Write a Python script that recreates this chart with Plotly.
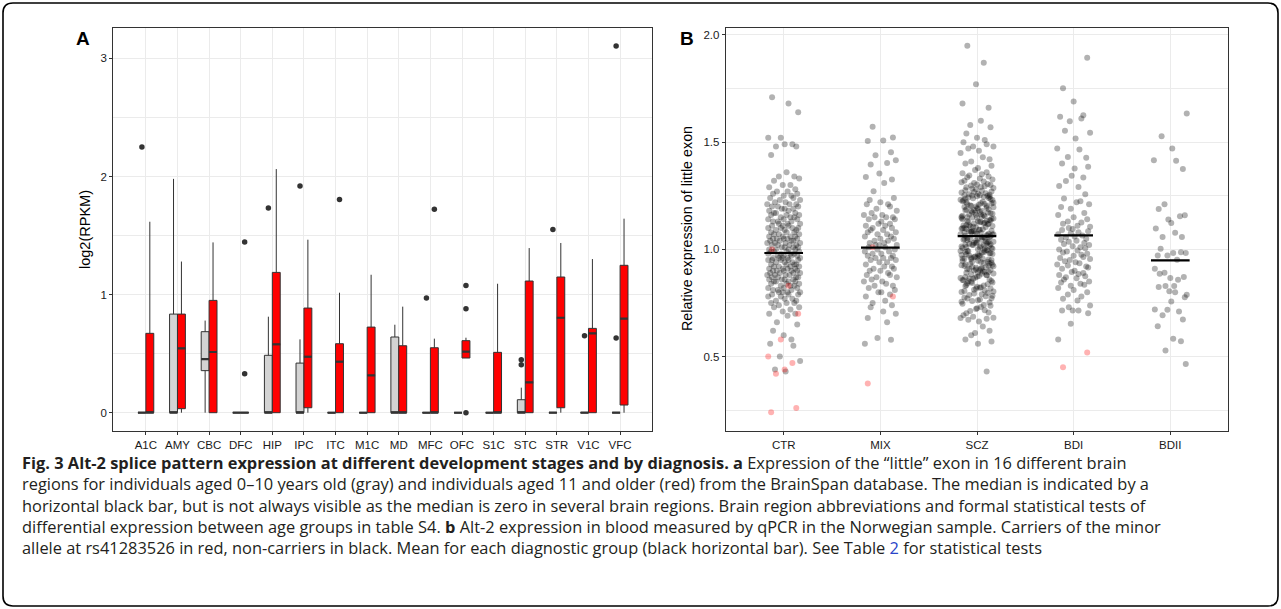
import plotly.graph_objects as go

W, H = 1281, 609

# ---------------- Panel A data (box statistics) ----------------
regions = ["A1C", "AMY", "CBC", "DFC", "HIP", "IPC", "ITC", "M1C",
           "MD", "MFC", "OFC", "S1C", "STC", "STR", "V1C", "VFC"]

young_q1 = [0, 0, 0.356, 0, 0, 0, 0, 0, 0, 0, 0, 0, 0, 0, 0, 0]
young_med = [0, 0, 0.454, 0, 0, 0, 0, 0, 0, 0, 0, 0, 0, 0, 0, 0]
young_q3 = [0, 0.835, 0.686, 0, 0.486, 0.42, 0, 0, 0.641, 0, 0, 0, 0.11, 0, 0, 0]
young_lo = [0, 0, 0, 0, 0, 0, 0, 0, 0, 0, 0, 0, 0, 0, 0, 0]
young_hi = [0, 1.98, 0.78, 0, 0.813, 0.621, 0, 0, 0.745, 0, 0, 0, 0.212, 0, 0, 0]
young_out_region = ["A1C", "HIP", "IPC", "MFC", "STC", "STC", "STR", "V1C", "VFC", "VFC"]
young_out_val = [2.25, 1.733, 1.919, 0.971, 0.449, 0.406, 1.552, 0.652, 3.105, 0.632]

old_q1 = [0, 0.034, 0, 0, 0, 0.042, 0, 0, 0, 0, 0.463, 0, 0, 0.042, 0, 0.065]
old_med = [0, 0.545, 0.514, 0, 0.579, 0.474, 0.432, 0.316, 0, 0, 0.517, 0, 0.257, 0.804, 0.672, 0.796]
old_q3 = [0.672, 0.835, 0.951, 0, 1.188, 0.886, 0.584, 0.725, 0.567, 0.55, 0.61, 0.511, 1.115, 1.149, 0.714, 1.248]
old_lo = [0, 0, 0, 0, 0, 0, 0, 0, 0, 0, 0.463, 0, 0, 0, 0, 0]
old_hi = [1.617, 1.28, 1.442, 0, 2.063, 1.465, 1.016, 1.168, 0.898, 0.627, 0.635, 1.092, 1.394, 1.437, 1.301, 1.643]
old_out_region = ["DFC", "DFC", "ITC", "MFC", "OFC", "OFC", "OFC"]
old_out_val = [0.33, 1.445, 1.806, 1.722, 1.078, 0.881, 0.0]

# ---------------- Panel B data ----------------
groups = ["CTR", "MIX", "SCZ", "BDI", "BDII"]
group_means = [0.983, 1.008, 1.062, 1.065, 0.949]

ctr_gray = [1.71, 1.68, 1.64, 1.52, 1.52, 1.49, 1.49, 1.48, 1.48, 1.44, 1.36, 1.34, 1.34, 1.33, 1.32,
            1.30, 1.30, 1.29, 1.28, 1.27, 1.27, 1.26, 1.26, 1.25, 1.25,
            1.24, 1.24, 1.23, 1.23, 1.22, 1.22, 1.21, 1.21, 1.21, 1.20, 1.20, 1.20,
            1.19, 1.19, 1.19, 1.18, 1.18, 1.17, 1.17, 1.17, 1.16, 1.16, 1.16, 1.15, 1.15, 1.15,
            1.14, 1.14, 1.14, 1.13, 1.13, 1.13, 1.12, 1.12, 1.12, 1.11, 1.11, 1.11, 1.10, 1.10, 1.10, 1.10,
            1.09, 1.09, 1.09, 1.08, 1.08, 1.08, 1.07, 1.07, 1.07, 1.06, 1.06, 1.06, 1.06, 1.05, 1.05, 1.05, 1.05, 1.05,
            1.04, 1.04, 1.04, 1.04, 1.03, 1.03, 1.03, 1.03, 1.02, 1.02, 1.02, 1.02, 1.01, 1.01, 1.01, 1.01, 1.00, 1.00, 1.00, 1.00,
            0.99, 0.99, 0.99, 0.99, 0.98, 0.98, 0.98, 0.98, 0.97, 0.97, 0.97, 0.97, 0.96, 0.96, 0.96, 0.96, 0.96, 0.95, 0.95, 0.95, 0.95, 0.95,
            0.94, 0.94, 0.94, 0.93, 0.93, 0.93, 0.93, 0.92, 0.92, 0.92, 0.92, 0.91, 0.91, 0.91, 0.91, 0.90, 0.90, 0.90, 0.90, 0.90,
            0.89, 0.89, 0.89, 0.89, 0.88, 0.88, 0.88, 0.88, 0.87, 0.87, 0.87, 0.87, 0.86, 0.86, 0.86, 0.86, 0.85, 0.85, 0.85, 0.85,
            0.84, 0.84, 0.84, 0.83, 0.83, 0.83, 0.82, 0.82, 0.82, 0.81, 0.81, 0.81, 0.80, 0.80, 0.80, 0.80,
            0.79, 0.79, 0.79, 0.78, 0.78, 0.77, 0.77, 0.76, 0.76, 0.75, 0.75, 0.75,
            0.74, 0.73, 0.73, 0.72, 0.71, 0.70, 0.70, 0.69,
            0.66, 0.65, 0.62, 0.60, 0.58, 0.56, 0.55, 0.50, 0.48, 0.44, 0.43]
ctr_red = [1.00, 0.83, 0.70, 0.58, 0.50, 0.47, 0.44, 0.42, 0.26, 0.24]

mix_gray = [1.572, 1.522, 1.506, 1.508, 1.453, 1.439, 1.416, 1.396, 1.403, 1.354, 1.338, 1.326, 1.31, 1.271,
            1.24, 1.23, 1.22, 1.21, 1.21, 1.20,
            1.19, 1.18, 1.17, 1.16, 1.16, 1.15, 1.15, 1.15,
            1.14, 1.14, 1.13, 1.12, 1.12, 1.11, 1.11, 1.10, 1.10,
            1.09, 1.09, 1.08, 1.08, 1.07, 1.07, 1.06, 1.06, 1.05, 1.05,
            1.04, 1.04, 1.03, 1.03, 1.02, 1.02, 1.02, 1.01, 1.01, 1.00, 1.00,
            0.99, 0.99, 0.98, 0.98, 0.97, 0.97, 0.96, 0.96, 0.96, 0.95, 0.95,
            0.94, 0.94, 0.93, 0.92, 0.92, 0.91, 0.91, 0.90, 0.90,
            0.89, 0.88, 0.88, 0.87, 0.87, 0.86, 0.85, 0.85,
            0.84, 0.83, 0.83, 0.82, 0.81, 0.80, 0.80,
            0.79, 0.78, 0.76, 0.75, 0.74, 0.73,
            0.71, 0.70, 0.68, 0.66, 0.587, 0.578, 0.56]
mix_red = [1.01, 0.78, 0.375]

scz_gray = [1.95, 1.87, 1.77, 1.68, 1.66, 1.60, 1.58, 1.57, 1.54, 1.52, 1.51, 1.50, 1.49, 1.48, 1.48, 1.47,
            1.46, 1.45, 1.43, 1.42, 1.41, 1.40, 1.39, 1.38,
            1.37, 1.36, 1.355, 1.35, 1.344, 1.34, 1.336, 1.33, 1.326, 1.32, 1.317, 1.31, 1.305, 1.313, 1.302, 1.30,
            1.298, 1.294, 1.29, 1.291, 1.286, 1.283, 1.28, 1.276, 1.273, 1.27, 1.267, 1.265, 1.262, 1.26, 1.257,
            1.255, 1.253, 1.252, 1.25, 1.251,
            1.23, 1.21, 1.245, 1.20, 1.225, 1.24, 1.215, 1.205, 1.235, 1.22, 1.248, 1.212, 1.228, 1.202, 1.238,
            1.218, 1.242, 1.208, 1.232, 1.222, 1.246, 1.204, 1.236, 1.214,
            1.19, 1.171, 1.195, 1.157, 1.18, 1.163, 1.187, 1.15, 1.176, 1.166, 1.198, 1.159, 1.184, 1.172, 1.152,
            1.193, 1.168, 1.179, 1.155, 1.186, 1.164, 1.197, 1.173, 1.161, 1.182, 1.153,
            1.143, 1.121, 1.146, 1.104, 1.131, 1.113, 1.137, 1.101, 1.126, 1.117, 1.149, 1.109, 1.133, 1.122,
            1.103, 1.141, 1.119, 1.129, 1.107, 1.135, 1.114, 1.147, 1.124, 1.111, 1.132, 1.105, 1.144, 1.127,
            1.092, 1.071, 1.094, 1.056, 1.081, 1.063, 1.087, 1.051, 1.076, 1.067, 1.099, 1.058, 1.083, 1.073,
            1.053, 1.091, 1.069, 1.079, 1.057, 1.086, 1.065, 1.096, 1.074, 1.061, 1.082, 1.054, 1.095, 1.077, 1.07, 1.085,
            1.041, 1.022, 1.044, 1.006, 1.031, 1.013, 1.037, 1.001, 1.026, 1.017, 1.048, 1.009, 1.033, 1.021,
            1.003, 1.043, 1.019, 1.029, 1.007, 1.036, 1.015, 1.047, 1.024, 1.011, 1.032, 1.004, 1.045, 1.027, 1.02, 1.035,
            0.991, 0.972, 0.993, 0.956, 0.981, 0.961, 0.988, 0.951, 0.976, 0.967, 0.997, 0.958, 0.983, 0.971,
            0.953, 0.992, 0.969, 0.979, 0.957, 0.987, 0.964, 0.995, 0.974, 0.962, 0.982, 0.955, 0.994, 0.977,
            0.941, 0.921, 0.944, 0.906, 0.931, 0.913, 0.938, 0.901, 0.926, 0.917, 0.947, 0.909, 0.934, 0.922,
            0.903, 0.942, 0.919, 0.928, 0.907, 0.936, 0.914, 0.946, 0.924, 0.911, 0.932, 0.904,
            0.891, 0.872, 0.894, 0.856, 0.881, 0.863, 0.887, 0.851, 0.876, 0.866, 0.897, 0.859, 0.884, 0.871,
            0.853, 0.892, 0.868, 0.879, 0.857, 0.886, 0.864, 0.895,
            0.842, 0.821, 0.846, 0.806, 0.831, 0.812, 0.837, 0.801, 0.826, 0.817, 0.849, 0.808, 0.834, 0.823,
            0.803, 0.843, 0.818, 0.829,
            0.791, 0.772, 0.794, 0.756, 0.781, 0.763, 0.787, 0.752, 0.776, 0.766, 0.797, 0.759, 0.784, 0.771,
            0.741, 0.722, 0.746, 0.706, 0.731, 0.713, 0.737, 0.702, 0.726, 0.716,
            0.693, 0.676, 0.686, 0.681, 0.672,
            0.664, 0.68, 0.64, 0.62, 0.60, 0.58, 0.57, 0.56, 0.61, 0.43]
scz_red = []

bdi_gray = [1.894, 1.752, 1.69, 1.61, 1.618, 1.625, 1.597, 1.544, 1.553, 1.517, 1.47, 1.466, 1.427, 1.431,
            1.40, 1.385, 1.377, 1.343, 1.335, 1.296, 1.291, 1.319, 1.257, 1.237, 1.22, 1.21, 1.198, 1.224,
            1.19, 1.17, 1.16, 1.15, 1.14, 1.13, 1.125, 1.12, 1.11, 1.105,
            1.10, 1.095, 1.09, 1.08, 1.085, 1.075, 1.07, 1.065, 1.06, 1.055, 1.05,
            1.045, 1.04, 1.03, 1.035, 1.02, 1.025, 1.01, 1.015, 1.00, 1.005,
            0.995, 0.99, 0.98, 0.985, 0.97, 0.975, 0.96, 0.965, 0.95, 0.955,
            0.945, 0.94, 0.93, 0.935, 0.92, 0.925, 0.91, 0.915, 0.90,
            0.895, 0.89, 0.88, 0.885, 0.87, 0.875, 0.86, 0.865, 0.85,
            0.845, 0.84, 0.83, 0.835, 0.82, 0.81, 0.80, 0.79, 0.78, 0.77,
            0.762, 0.738, 0.73, 0.715, 0.715, 0.715, 0.702, 0.653, 0.58]
bdi_red = [0.519, 0.45]

bdii_gray = [1.634, 1.528, 1.47, 1.416, 1.413, 1.375, 1.21, 1.188, 1.159, 1.123, 1.139, 1.154, 1.097,
             1.078, 1.058, 1.058, 1.003, 0.983, 0.983, 0.972, 0.952, 0.972, 0.987,
             0.91, 0.866, 0.871, 0.891, 0.858, 0.886, 0.829, 0.788, 0.829,
             0.805, 0.824, 0.80, 0.777, 0.718, 0.72, 0.71, 0.757, 0.693, 0.673,
             0.642, 0.583, 0.572, 0.528, 0.466]
bdii_red = []

# jitter pattern (horizontal spread of the dots, in category units)
jitter = [-0.12, 0.05, 0.15, -0.03, -0.16, 0.09, 0.01, -0.08, 0.13, -0.13, 0.03, 0.11, -0.05, 0.16,
          -0.10, 0.07, -0.01, -0.15, 0.12, 0.04, -0.07, 0.14, -0.11, 0.00, 0.08, -0.14, 0.10, -0.04,
          0.17, -0.09, 0.02, -0.17, 0.06, 0.13, -0.06, -0.12, 0.15, 0.01, -0.02, 0.10, -0.15, 0.05,
          -0.08, 0.12, -0.10, 0.03, 0.16, -0.13, 0.07, -0.03, 0.11, -0.16, 0.00, 0.14, -0.06, 0.08,
          -0.11, 0.04, 0.17, -0.05, -0.01]

gray_sets = [ctr_gray, mix_gray, scz_gray, bdi_gray, bdii_gray]
red_sets = [ctr_red, mix_red, scz_red, bdi_red, bdii_red]

# ---------------- figure ----------------
DARK = "#333333"
GRID = "#EBEBEB"
FONT = "Liberation Sans, Arial, sans-serif"

fig = go.Figure()

ridx = {r: i for i, r in enumerate(regions)}
dodge = 0.125
bw = 0.25

for q1, med, q3, lo, hi, off, fill in [
    (young_q1, young_med, young_q3, young_lo, young_hi, -dodge, "#D3D3D3"),
    (old_q1, old_med, old_q3, old_lo, old_hi, dodge, "#FF0000"),
]:
    xs = [i + off for i in range(len(regions))]
    fig.add_trace(go.Box(
        x=xs, q1=q1, median=med, q3=q3, lowerfence=lo, upperfence=hi,
        width=bw, fillcolor=fill, line=dict(color=DARK, width=1),
        whiskerwidth=0, boxpoints=False, xaxis="x", yaxis="y", showlegend=False,
        hoverinfo="skip",
    ))
    # thicker median bars
    mx, my = [], []
    for i, m in enumerate(med):
        mx += [i + off - bw / 2, i + off + bw / 2, None]
        my += [m, m, None]
    fig.add_trace(go.Scatter(x=mx, y=my, mode="lines", line=dict(color=DARK, width=2.2),
                             xaxis="x", yaxis="y", showlegend=False, hoverinfo="skip"))

fig.add_trace(go.Scatter(
    x=[ridx[r] - dodge for r in young_out_region], y=young_out_val, mode="markers",
    marker=dict(color=DARK, size=5.5), xaxis="x", yaxis="y", showlegend=False, hoverinfo="skip"))
fig.add_trace(go.Scatter(
    x=[ridx[r] + dodge for r in old_out_region], y=old_out_val, mode="markers",
    marker=dict(color=DARK, size=5.5), xaxis="x", yaxis="y", showlegend=False, hoverinfo="skip"))

# panel B points
for sets, col in [(gray_sets, "rgba(0,0,0,0.3)"), (red_sets, "rgba(255,0,0,0.3)")]:
    px_, py_ = [], []
    for gi, vals in enumerate(sets):
        for k, v in enumerate(vals):
            px_.append(gi + jitter[(k + 7 * gi) % len(jitter)])
            py_.append(v)
    fig.add_trace(go.Scatter(x=px_, y=py_, mode="markers",
                             marker=dict(color=col, size=6, line=dict(width=0)),
                             xaxis="x2", yaxis="y2", showlegend=False, hoverinfo="skip"))

mx, my = [], []
for gi, m in enumerate(group_means):
    mx += [gi - 0.2, gi + 0.2, None]
    my += [m, m, None]
fig.add_trace(go.Scatter(x=mx, y=my, mode="lines", line=dict(color="black", width=2.2),
                         xaxis="x2", yaxis="y2", showlegend=False, hoverinfo="skip"))

common_axis = dict(showline=True, mirror=True, linecolor=DARK, linewidth=1,
                   ticks="outside", ticklen=3, tickcolor=DARK, tickwidth=1,
                   showgrid=True, gridcolor=GRID, gridwidth=1.4, zeroline=False,
                   tickfont=dict(family=FONT, size=11.5, color="#1a1a1a"))

ybot, ytop = 1 - 431 / H, 1 - 28.3 / H

fig.update_layout(
    width=W, height=H,
    margin=dict(l=0, r=0, t=0, b=0),
    paper_bgcolor="white", plot_bgcolor="white",
    showlegend=False,
    xaxis=dict(domain=[113.3 / W, 651.7 / W], range=[-1.03, 16.0],
               tickmode="array", tickvals=list(range(len(regions))), ticktext=regions,
               **common_axis),
    yaxis=dict(domain=[ybot, ytop], range=[-0.155, 3.255],
               tickmode="array", tickvals=[0, 1, 2, 3], ticktext=["0", "1", "2", "3"],
               minor=dict(dtick=0.5, tick0=0, showgrid=True, gridcolor=GRID, gridwidth=0.8, ticks=""),
               **common_axis),
    xaxis2=dict(domain=[725.7 / W, 1228.3 / W], range=[-0.6, 4.6], anchor="y2",
                tickmode="array", tickvals=list(range(len(groups))), ticktext=groups,
                **common_axis),
    yaxis2=dict(domain=[ybot, ytop], range=[0.153, 2.031], anchor="x2",
                tickmode="array", tickvals=[0.5, 1.0, 1.5, 2.0], ticktext=["0.5", "1.0", "1.5", "2.0"],
                minor=dict(dtick=0.25, tick0=0, showgrid=True, gridcolor=GRID, gridwidth=0.8, ticks=""),
                **common_axis),
)

def P(x, y):
    return x / W, 1 - y / H

ann = []
ax, ay = P(83, 38)
ann.append(dict(x=ax, y=ay, text="<b>A</b>", font=dict(family=FONT, size=19, color="black")))
bx, by = P(686.5, 38)
ann.append(dict(x=bx, y=by, text="<b>B</b>", font=dict(family=FONT, size=19, color="black")))
tx, ty = P(85, 230)
ann.append(dict(x=tx, y=ty, text="log2(RPKM)", textangle=-90,
                font=dict(family=FONT, size=14.5, color="black")))
tx, ty = P(687, 229)
ann.append(dict(x=tx, y=ty, text="Relative expression of little exon", textangle=-90,
                font=dict(family=FONT, size=14.3, color="black")))

caption_lines = [
    "<b>Fig. 3 Alt-2 splice pattern expression at different development stages and by diagnosis. a</b> "
    "Expression of the “little” exon in 16 different brain",
    "regions for individuals aged 0–10 years old (gray) and individuals aged 11 and older (red) from the "
    "BrainSpan database. The median is indicated by a",
    "horizontal black bar, but is not always visible as the median is zero in several brain regions. "
    "Brain region abbreviations and formal statistical tests of",
    "differential expression between age groups in table S4. <b>b</b> Alt-2 expression in blood measured by "
    "qPCR in the Norwegian sample. Carriers of the minor",
    "allele at rs41283526 in red, non-carriers in black. Mean for each diagnostic group (black horizontal "
    "bar). See Table <span style='color:#2a45c8'>2</span> for statistical tests",
]
cx, cy = P(20, 449)
ann.append(dict(x=cx, y=cy, text="<br>".join(caption_lines), xanchor="left", yanchor="top",
                align="left",
                font=dict(family="Open Sans, sans-serif", size=16.4, color="#231f20")))

for a in ann:
    a.setdefault("xanchor", "center")
    a.setdefault("yanchor", "middle")
    a.update(xref="paper", yref="paper", showarrow=False)
fig.update_layout(annotations=ann)

# rounded frame around the whole figure
x0, y0, x1, y1, r = 3, 3, 1278, 606, 10
def pt(x, y):
    a, b = P(x, y)
    return f"{a:.5f},{b:.5f}"
path = (f"M {pt(x0 + r, y0)} L {pt(x1 - r, y0)} Q {pt(x1, y0)} {pt(x1, y0 + r)} "
        f"L {pt(x1, y1 - r)} Q {pt(x1, y1)} {pt(x1 - r, y1)} L {pt(x0 + r, y1)} "
        f"Q {pt(x0, y1)} {pt(x0, y1 - r)} L {pt(x0, y0 + r)} Q {pt(x0, y0)} {pt(x0 + r, y0)} Z")
fig.add_shape(type="path", path=path, xref="paper", yref="paper",
              line=dict(color="black", width=1.6), fillcolor="rgba(0,0,0,0)")

fig.write_html("out.html", config={"displayModeBar": False},
               post_script="document.body.style.margin='0';document.body.style.overflow='hidden';")
